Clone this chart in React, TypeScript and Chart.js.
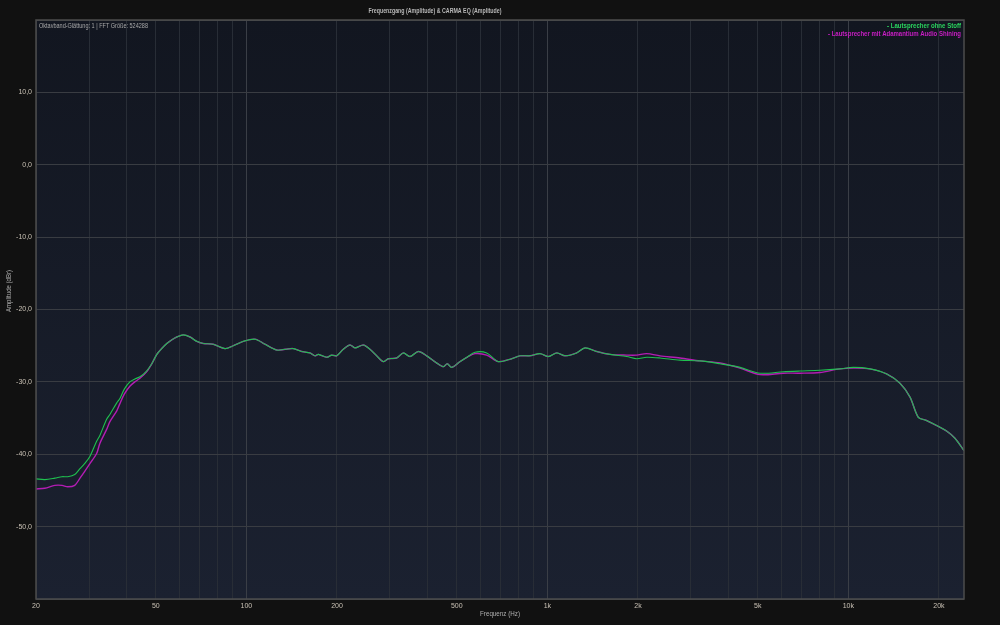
import React, { useEffect, useRef } from "react";
import { Chart, registerables } from "chart.js";

Chart.register(...registerables);

const freqHz = [20, 21.4, 23.1, 24.4, 25.5, 26.9, 28.0, 29.0, 30.2, 31.8, 32.6, 34.3, 35.2, 37.1, 38.0, 39.3, 41.0, 42.6, 44.3, 46.6, 48.5, 50.4, 52.3, 54.4, 56.5, 58.7, 61.7, 65.0, 68.4, 71.9, 77.6, 84.9, 90.5, 97.7, 106.8, 115.3, 126.1, 134.4, 143.2, 152.6, 162.7, 169.0, 173.4, 184.9, 192.1, 199.5, 209.8, 221.0, 229.6, 244.6, 257.5, 271.0, 285.0, 296.2, 315.8, 332.2, 349.7, 372.6, 397.2, 428.9, 451.1, 465.0, 480.9, 512.6, 540.6, 574.8, 628.5, 687.0, 761.3, 811.0, 875.8, 945.0, 1007, 1074, 1144, 1251, 1334, 1458, 1615, 1835, 1980, 2138, 2367, 2758, 3214, 3746, 4366, 5085, 6077, 6907, 8046, 9380, 10388, 11800, 13405, 14845, 16024, 17077, 18108, 19150, 21218, 22610, 24220];

const ohneStoff = [-43.4, -43.5, -43.3, -43.1, -43.1, -42.8, -42.0, -41.3, -40.3, -38.2, -37.4, -35.2, -34.5, -32.9, -32.3, -31.0, -30.0, -29.6, -29.3, -28.5, -27.5, -26.2, -25.4, -24.7, -24.2, -23.8, -23.5, -23.8, -24.4, -24.7, -24.8, -25.4, -25.0, -24.4, -24.1, -24.8, -25.6, -25.5, -25.4, -25.8, -26.0, -26.4, -26.2, -26.6, -26.3, -26.4, -25.5, -24.9, -25.3, -24.9, -25.5, -26.4, -27.2, -26.8, -26.7, -26.0, -26.5, -25.8, -26.4, -27.4, -27.9, -27.5, -28.0, -27.2, -26.6, -25.9, -26.0, -27.2, -26.8, -26.4, -26.4, -26.1, -26.5, -26.0, -26.4, -26.0, -25.3, -25.8, -26.2, -26.5, -26.8, -26.6, -26.7, -27.0, -27.1, -27.5, -28.0, -28.8, -28.6, -28.5, -28.4, -28.2, -28.0, -28.2, -28.9, -30.2, -32.1, -34.9, -35.3, -35.8, -36.8, -37.8, -39.5];

const mitShining = [-44.8, -44.7, -44.3, -44.3, -44.5, -44.3, -43.3, -42.4, -41.3, -39.9, -38.5, -36.6, -35.5, -34.0, -33.0, -31.7, -30.6, -30.0, -29.5, -28.6, -27.5, -26.2, -25.4, -24.7, -24.2, -23.8, -23.5, -23.8, -24.4, -24.7, -24.8, -25.4, -25.0, -24.4, -24.1, -24.8, -25.6, -25.5, -25.4, -25.8, -26.0, -26.4, -26.2, -26.6, -26.3, -26.4, -25.5, -24.9, -25.3, -24.9, -25.5, -26.4, -27.2, -26.8, -26.7, -26.0, -26.5, -25.8, -26.4, -27.4, -27.9, -27.5, -28.0, -27.2, -26.6, -26.1, -26.3, -27.2, -26.8, -26.4, -26.4, -26.1, -26.5, -26.0, -26.4, -26.0, -25.3, -25.8, -26.2, -26.3, -26.3, -26.1, -26.4, -26.7, -27.1, -27.4, -28.1, -29.0, -28.8, -28.8, -28.7, -28.2, -28.1, -28.2, -28.9, -30.2, -32.1, -34.9, -35.3, -35.8, -36.8, -37.8, -39.5];

const xGridHz = [20, 30, 40, 50, 60, 70, 80, 90, 100, 200, 300, 400, 500, 600, 700, 800, 900, 1000, 2000, 3000, 4000, 5000, 6000, 7000, 8000, 9000, 10000, 20000];
const xLabelHz = [20, 50, 100, 200, 500, 1000, 2000, 5000, 10000, 20000];
const xLabelText = ["20", "50", "100", "200", "500", "1k", "2k", "5k", "10k", "20k"];
const yLabelDb = [10, 0, -10, -20, -30, -40, -50];

const seriesNames = ["- Lautsprecher ohne Stoff", "- Lautsprecher mit Adamantium Audio Shining"];
const seriesColors = ["#1fc04f", "#b41db4"];
const legendColors = ["#2ad35e", "#c81ec4"];

const titleText = "Frequenzgang (Amplitude) & CARMA EQ (Amplitude)";
const infoText = "Oktavband-Glättung: 1 | FFT Größe: 524288";
const xTitle = "Frequenz (Hz)";
const yTitle = "Amplitude (dBr)";

const FONT = '"Liberation Sans", Arial, sans-serif';

function fitText(ctx: CanvasRenderingContext2D, text: string, x: number, y: number, w: number, align: "left" | "center" | "right") {
  const m = ctx.measureText(text).width;
  const sx = Math.min(1, w / m);
  ctx.save();
  ctx.translate(x, y);
  ctx.scale(sx, 1);
  ctx.textAlign = align;
  ctx.fillText(text, 0, 0);
  ctx.restore();
}

const decorPlugin = {
  id: "decor",
  beforeDraw(chart: any) {
    const { ctx, chartArea: a, width, height } = chart;
    ctx.save();
    ctx.fillStyle = "#111111";
    ctx.fillRect(0, 0, width, height);
    const g = ctx.createLinearGradient(0, a.top, 0, a.bottom);
    g.addColorStop(0, "#121620");
    g.addColorStop(1, "#1b2130");
    ctx.fillStyle = g;
    ctx.fillRect(a.left, a.top, a.right - a.left, a.bottom - a.top);
    ctx.restore();
  },
  afterDraw(chart: any) {
    const { ctx, chartArea: a } = chart;
    ctx.save();
    ctx.strokeStyle = "#4c4c4c";
    ctx.lineWidth = 1.5;
    ctx.strokeRect(a.left, a.top, a.right - a.left, a.bottom - a.top);

    ctx.textBaseline = "middle";
    ctx.fillStyle = "#b8b8b8";
    ctx.font = "bold 7px " + FONT;
    fitText(ctx, titleText, 435, 11, 133, "center");

    ctx.font = "7px " + FONT;
    ctx.fillStyle = "#a8a8a8";
    fitText(ctx, infoText, a.left + 3, a.top + 6, 109, "left");

    ctx.font = "bold 7px " + FONT;
    ctx.fillStyle = legendColors[0];
    fitText(ctx, seriesNames[0], a.right - 3, a.top + 6, 74, "right");
    ctx.fillStyle = legendColors[1];
    fitText(ctx, seriesNames[1], a.right - 3, a.top + 14, 133, "right");

    ctx.fillStyle = "#b0b0b0";
    ctx.font = "7px " + FONT;
    fitText(ctx, xTitle, (a.left + a.right) / 2, 614, 40, "center");

    ctx.translate(9, 291);
    ctx.rotate(-Math.PI / 2);
    fitText(ctx, yTitle, 0, 0, 42, "center");
    ctx.restore();
  },
};

export default function App() {
  const ref = useRef<HTMLCanvasElement | null>(null);

  useEffect(() => {
    if (!ref.current) return;
    const mk = (vals: number[]) => freqHz.map((f, i) => ({ x: f, y: vals[i] }));
    const chart = new Chart(ref.current, {
      type: "line",
      data: {
        datasets: [
          {
            label: seriesNames[0],
            data: mk(ohneStoff),
            borderColor: seriesColors[0],
            borderWidth: 1.1,
            pointRadius: 0,
            tension: 0.3,
            fill: false,
            order: 0,
          },
          {
            label: seriesNames[1],
            data: mk(mitShining),
            borderColor: seriesColors[1],
            borderWidth: 1.4,
            pointRadius: 0,
            tension: 0.3,
            fill: false,
            order: 1,
          },
        ],
      },
      options: {
        animation: false,
        responsive: true,
        maintainAspectRatio: false,
        layout: { padding: { top: 20, right: 36, left: 0, bottom: 0 } },
        plugins: {
          legend: { display: false },
          title: { display: false },
          tooltip: { enabled: false },
        },
        scales: {
          x: {
            type: "logarithmic",
            min: 20,
            max: 24220,
            afterBuildTicks: (s: any) => {
              s.ticks = xGridHz.map((v) => ({ value: v }));
            },
            afterFit: (s: any) => {
              s.height = 26;
            },
            ticks: {
              autoSkip: false,
              maxRotation: 0,
              padding: 3,
              color: "#c8c0b4",
              font: { family: FONT, size: 7 },
              callback: (v: any) => {
                const i = xLabelHz.indexOf(Number(v));
                return i >= 0 ? xLabelText[i] : "";
              },
            },
            grid: {
              drawTicks: false,
              lineWidth: 1,
              color: (c: any) => {
                const v = c.tick ? c.tick.value : 0;
                return v === 100 || v === 1000 || v === 10000 ? "#3a3e46" : "#282d36";
              },
            },
            border: { display: false },
          },
          y: {
            type: "linear",
            min: -60,
            max: 20,
            afterBuildTicks: (s: any) => {
              s.ticks = [-60, -50, -40, -30, -20, -10, 0, 10, 20].map((v) => ({ value: v }));
            },
            afterFit: (s: any) => {
              s.width = 36;
            },
            ticks: {
              padding: 4,
              color: "#c8c0b4",
              font: { family: FONT, size: 7 },
              callback: (v: any) => {
                const n = Number(v);
                return yLabelDb.indexOf(n) >= 0 ? n.toFixed(1).replace(".", ",") : "";
              },
            },
            grid: {
              drawTicks: false,
              lineWidth: 1,
              color: "#393c42",
            },
            border: { display: false },
          },
        },
      },
      plugins: [decorPlugin],
    } as any);
    return () => chart.destroy();
  }, []);

  return (
    <div style={{ position: "absolute", left: 0, top: 0, width: 1000, height: 625, background: "#111111" }}>
      <canvas ref={ref} />
    </div>
  );
}
